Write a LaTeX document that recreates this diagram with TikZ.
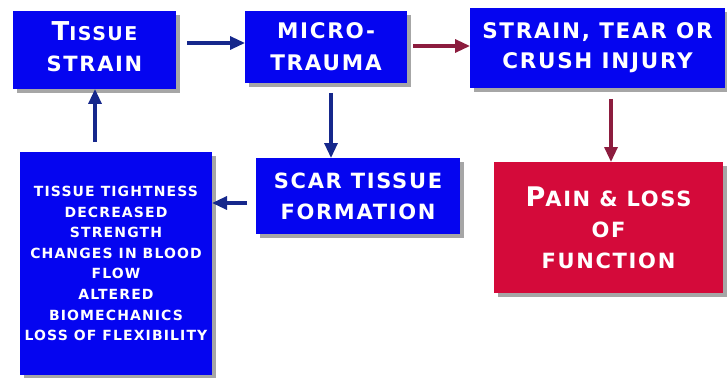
\documentclass[tikz,border=0pt]{standalone}
\usepackage{fontspec}
\setmainfont{DejaVu Sans}[LetterSpace=8]
\usetikzlibrary{arrows.meta,shadows,calc}
\definecolor{boxblue}{RGB}{5,5,240}
\definecolor{boxred}{RGB}{212,10,58}
\definecolor{arrblue}{RGB}{22,40,140}
\definecolor{arrred}{RGB}{140,28,62}
\newcommand\fsz[2]{{\fontsize{#1}{#1}\selectfont #2}}
\begin{document}
\begin{tikzpicture}[x=1pt,y=-1pt,
  box/.style={fill=boxblue, text=white, align=center, inner sep=0pt, outer sep=0pt,
    drop shadow={shadow xshift=4pt, shadow yshift=-4pt, fill=black, opacity=0.35}},
  redbox/.style={box, fill=boxred},
  barrow/.style={draw=arrblue, line width=3.2pt, -{Triangle[length=15pt,width=13pt]}},
  rarrow/.style={draw=arrred, line width=3.2pt, -{Triangle[length=15pt,width=13pt]}}]
\useasboundingbox (0,0) rectangle (727,377);

\node[box, minimum width=163pt, minimum height=78pt, font={\bfseries\fontsize{21}{31}\selectfont}] (tissue) at (94.5,50)
  {\fsz{26}{T}\fsz{19}{ISSUE}\\STRAIN\rule[-6pt]{0pt}{6pt}};
\node[box, minimum width=162pt, minimum height=72pt, font={\bfseries\fontsize{21.5}{32}\selectfont}] (micro) at (326,47)
  {MICRO-\\TRAUMA};
\node[box, minimum width=255pt, minimum height=80pt, font={\bfseries\fontsize{21.5}{30}\selectfont}] (strain) at (597.5,48)
  {STRAIN, TEAR OR\\CRUSH INJURY};
\node[redbox, minimum width=229pt, minimum height=131pt, font={\bfseries\fontsize{21}{31}\selectfont}] (pain) at (608.5,227.5)
  {\fsz{27}{P}AIN \& LOSS\\OF\\FUNCTION};
\node[box, minimum width=204pt, minimum height=76pt, font={\bfseries\fontsize{21}{31}\selectfont}] (scar) at (358,196)
  {SCAR TISSUE\\FORMATION};
\node[box, minimum width=192pt, minimum height=223pt, font={\bfseries\fontsize{14}{20.6}\selectfont}] (effects) at (116,263.5)
  {TISSUE TIGHTNESS\\DECREASED\\STRENGTH\\CHANGES IN BLOOD\\FLOW\\ALTERED\\BIOMECHANICS\\LOSS OF FLEXIBILITY};

\draw[barrow] ([xshift=11pt,yshift=7pt]tissue.east) -- ([yshift=4pt]micro.west);
\draw[rarrow] ([xshift=6pt,yshift=1pt]micro.east) -- ([yshift=2pt]strain.west);
\draw[barrow] ([xshift=5pt,yshift=-10pt]micro.south) -- ([xshift=5pt]micro.south |- scar.north);
\draw[rarrow] ([xshift=13.5pt,yshift=-11pt]strain.south) -- ([xshift=13.5pt]strain.south |- pain.north);
\draw[barrow] ([xshift=-9pt,yshift=-7pt]scar.west) -- ([yshift=-7pt]scar.west -| effects.east);
\draw[barrow] ([xshift=-21pt,yshift=10pt]effects.north) -- ([xshift=-21pt]effects.north |- tissue.south);
\end{tikzpicture}
\end{document}
